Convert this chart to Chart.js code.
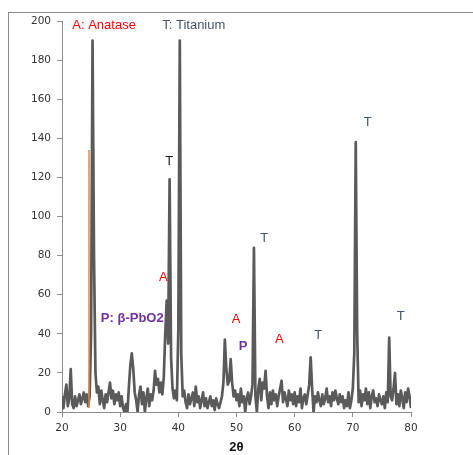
<!DOCTYPE html>
<html><head><meta charset="utf-8">
<script src="https://cdn.jsdelivr.net/npm/chart.js@4/dist/chart.umd.min.js"></script>
<style>html,body{margin:0;padding:0;background:#fff;}canvas{display:block;}</style>
</head><body>
<canvas id="c" width="473" height="455"></canvas>
<script>
// 2θ sampling positions (degrees)
const twoTheta = [
20,20.25,20.5,20.75, 21,21.25,21.5,21.75, 22,22.25,22.5,22.75, 23,23.25,23.5,23.75,
24,24.25,24.5,24.75, 25,25.25,25.5,25.75, 26,26.25,26.5,26.75, 27,27.25,27.5,27.75,
28,28.25,28.5,28.75, 29,29.25,29.5,29.75, 30,30.25,30.5,30.75, 31,31.25,31.5,31.75,
32,32.25,32.5,32.75, 33,33.25,33.5,33.75, 34,34.25,34.5,34.75, 35,35.25,35.5,35.75,
36,36.25,36.5,36.75, 37,37.25,37.5,37.75, 38,38.25,38.5,38.75, 39,39.25,39.5,39.75,
40,40.25,40.5,40.75, 41,41.25,41.5,41.75, 42,42.25,42.5,42.75, 43,43.25,43.5,43.75,
44,44.25,44.5,44.75, 45,45.25,45.5,45.75, 46,46.25,46.5,46.75, 47,47.25,47.5,47.75,
48,48.25,48.5,48.75, 49,49.25,49.5,49.75, 50,50.25,50.5,50.75, 51,51.25,51.5,51.75,
52,52.25,52.5,52.75, 53,53.25,53.5,53.75, 54,54.25,54.5,54.75, 55,55.25,55.5,55.75,
56,56.25,56.5,56.75, 57,57.25,57.5,57.75, 58,58.25,58.5,58.75, 59,59.25,59.5,59.75,
60,60.25,60.5,60.75, 61,61.25,61.5,61.75, 62,62.25,62.5,62.75, 63,63.25,63.5,63.75,
64,64.25,64.5,64.75, 65,65.25,65.5,65.75, 66,66.25,66.5,66.75, 67,67.25,67.5,67.75,
68,68.25,68.5,68.75, 69,69.25,69.5,69.75, 70,70.25,70.5,70.75, 71,71.25,71.5,71.75,
72,72.25,72.5,72.75, 73,73.25,73.5,73.75, 74,74.25,74.5,74.75, 75,75.25,75.5,75.75,
76,76.25,76.5,76.75, 77,77.25,77.5,77.75, 78,78.25,78.5,78.75, 79,79.25,79.5,79.75,
80
];
// intensity
const intensity = [
8,2,9,14, 3,7,22,4, 2,8,3,6, 9,4,7,10,
5,9,3,8, 40,190,80,20, 10,13,4,11, 6,2,9,5,
10,15,7,11, 4,9,6,10, 3,8,2,0, 4,0,13,24,
30,22,10,6, 0,9,13,4, 10,0,7,12, 3,9,6,11,
21,14,17,10, 15,9,18,40, 57,35,119,28, 12,7,11,6,
42,190,30,8, 11,5,2,9, 4,7,10,3, 13,5,8,2,
6,10,3,7, 2,5,8,3, 6,1,7,4, 2,5,8,15,
37,22,14,16, 27,15,8,11, 6,9,3,12, 5,8,0,7,
10,4,8,14, 84,8,0,12, 17,6,15,12, 21,8,2,10,
4,11,6,9, 3,8,12,16, 5,10,7,3, 11,6,9,4,
10,3,8,5, 12,2,7,9, 4,9,14,28, 12,0,8,5,
10,6,3,9, 4,7,12,5, 8,3,10,6, 11,7,4,9,
5,8,2,6, 3,10,2,6, 12,30,138,40, 5,11,3,9,
6,12,4,10, 2,8,11,5, 7,3,9,6, 4,8,2,10,
5,38,8,6, 12,20,4,9, 3,11,7,2, 10,5,12,8,
2
];
// orange reference line
const refX = [24.64, 24.64];
const refY = [2, 134];

const xTicks = [20, 30, 40, 50, 60, 70, 80];
const yTicks = [0, 20, 40, 60, 80, 100, 120, 140, 160, 180, 200];
const xTitle = '2θ';

const annoText  = ['A: Anatase','T: Titanium','T','A','P: β-PbO2','A','P','A','T','T','T','T'];
const annoX     = [21.77, 37.23, 38.44, 37.41, 32.08, 49.95, 51.15, 57.35, 54.77, 64.05, 78.25, 72.58];
const annoY     = [197.6, 197.6, 128.4, 68.6, 47.7, 47.2, 33.6, 37, 88.6, 39, 48.7, 147.9];
const annoAlign = ['left','left','center','center','center','center','center','center','center','center','center','center'];
const annoColor = ['#ff0000','#44546a','#1a1a1a','#ff0000','#7030a0','#ff0000','#7030a0','#ff0000','#44546a','#44546a','#44546a','#44546a'];
const annoBold  = [false,false,false,false,true,false,true,false,false,false,false,false];

const frame = {
  id: 'frame',
  beforeDraw(chart) {
    const ctx = chart.ctx;
    ctx.save();
    ctx.fillStyle = '#fff';
    ctx.fillRect(0, 0, chart.width, chart.height);
    ctx.strokeStyle = '#8c8c8c';
    ctx.lineWidth = 1;
    ctx.strokeRect(8.5, 12.5, 700, 700);
    ctx.restore();
  }
};
const annos = {
  id: 'annos',
  afterDatasetsDraw(chart) {
    const ctx = chart.ctx, xs = chart.scales.x, ys = chart.scales.y;
    ctx.save();
    ctx.textBaseline = 'middle';
    annoText.forEach((t, i) => {
      ctx.font = (annoBold[i] ? 'bold ' : '') + '13px "Liberation Sans", Arial, sans-serif';
      ctx.fillStyle = annoColor[i];
      ctx.textAlign = annoAlign[i];
      ctx.fillText(t, xs.getPixelForValue(annoX[i]), ys.getPixelForValue(annoY[i]));
    });
    ctx.restore();
  }
};

const tickFont = { family: '"DejaVu Sans", sans-serif', size: 10.5 };
new Chart(document.getElementById('c'), {
  type: 'scatter',
  data: {
    datasets: [
      {
        data: twoTheta.map((x, i) => ({ x: x, y: intensity[i] })),
        showLine: true, borderColor: '#5a5a5a', borderWidth: 2.7,
        borderJoinStyle: 'round', pointRadius: 0, tension: 0, order: 2
      },
      {
        data: refX.map((x, i) => ({ x: x, y: refY[i] })),
        showLine: true, borderColor: '#f0843c', borderWidth: 1.5,
        pointRadius: 0, order: 1
      }
    ]
  },
  options: {
    responsive: false, animation: false, devicePixelRatio: 1,
    layout: { padding: { left: 0, top: 21, right: 62, bottom: 0 } },
    plugins: { legend: { display: false }, tooltip: { enabled: false } },
    scales: {
      x: {
        type: 'linear', min: 20, max: 80,
        afterBuildTicks: (a) => { a.ticks = xTicks.map(v => ({ value: v })); },
        afterFit: (s) => { s.height = 43; },
        grid: { display: true, drawOnChartArea: false, drawTicks: true, tickLength: 5, color: '#8c8c8c' },
        border: { display: true, color: '#8c8c8c', width: 1 },
        ticks: { font: tickFont, color: '#333', padding: 5, maxRotation: 0 },
        title: { display: true, text: xTitle, color: '#111', padding: { top: 0, bottom: 0 },
                 font: { family: '"Liberation Sans", Arial, sans-serif', size: 13, weight: 'bold' } }
      },
      y: {
        type: 'linear', min: 0, max: 200,
        afterBuildTicks: (a) => { a.ticks = yTicks.map(v => ({ value: v })); },
        afterFit: (s) => { s.width = 62; },
        grid: { display: true, drawOnChartArea: false, drawTicks: true, tickLength: 5, color: '#8c8c8c' },
        border: { display: true, color: '#8c8c8c', width: 1 },
        ticks: { font: tickFont, color: '#333', padding: 6 }
      }
    }
  },
  plugins: [frame, annos]
});
</script>
</body></html>
